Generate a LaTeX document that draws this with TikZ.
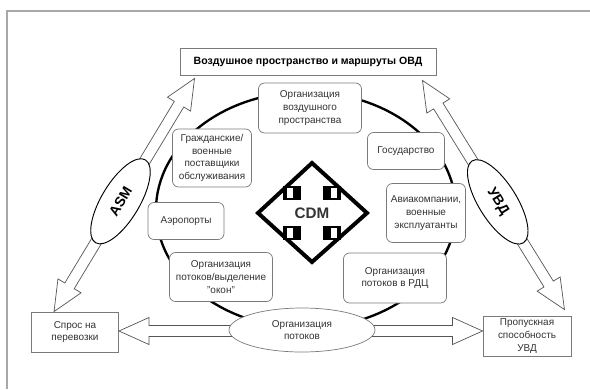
\documentclass[tikz,border=0pt]{standalone}
\usepackage{fontspec}
\setmainfont{Liberation Sans}
\usetikzlibrary{calc,shapes.geometric}
\definecolor{boxgray}{HTML}{7A7A7A}
\definecolor{arrgray}{HTML}{555555}
\definecolor{framegray}{HTML}{A8A8A8}
\definecolor{txt}{HTML}{333333}
\newcommand{\hollowarrow}[2]{%
  \coordinate (#1h) at ($(#1)!0.9cm!(#2)$);
  \coordinate (#2h) at ($(#2)!0.9cm!(#1)$);
  \draw[arrowline] (#1)
    -- ($(#1h)!0.405cm!90:(#2)$) -- ($(#1h)!0.165cm!90:(#2)$)
    -- ($(#2h)!0.165cm!-90:(#1)$) -- ($(#2h)!0.405cm!-90:(#1)$)
    -- (#2)
    -- ($(#2h)!0.405cm!90:(#1)$) -- ($(#2h)!0.165cm!90:(#1)$)
    -- ($(#1h)!0.165cm!-90:(#2)$) -- ($(#1h)!0.405cm!-90:(#2)$)
    -- cycle;}
\begin{document}
\begin{tikzpicture}[x=0.03cm,y=-0.03cm,
  box/.style={draw=boxgray, fill=white, rounded corners=0.18cm, align=center,
    inner sep=0pt, font=\fontsize{8.5}{10.8}\selectfont, text=txt, line width=0.6pt},
  sqbox/.style={draw=boxgray, fill=white, align=center, inner sep=0pt,
    font=\fontsize{8.5}{10.8}\selectfont, text=txt, line width=0.8pt},
  arrowline/.style={draw=arrgray, fill=white, line width=0.6pt, line join=miter},
  lbl/.style={draw=black, fill=white, ellipse, inner sep=0pt,
    font=\bfseries\fontsize{12}{14}\selectfont, line width=0.8pt}]
\useasboundingbox (0,0) rectangle (590,389);
\draw[framegray, line width=1.2pt] (7,389) -- (7,11) -- (590,11);
% ring
\draw[black, line width=2pt] (306,210) ellipse [x radius=4.5cm, y radius=3.54cm];
% outer boxes
\node[sqbox, minimum width=7.68cm, minimum height=0.81cm,
  font=\bfseries\fontsize{9}{10.8}\selectfont, text=black] (top) at (308,61.5)
  {Воздушное пространство и маршруты ОВД};
\node[sqbox, minimum width=2.61cm, minimum height=1.2cm] (spros) at (75,332)
  {Спрос на\\перевозки};
\node[sqbox, minimum width=2.64cm, minimum height=1.2cm] (propusk) at (527,336)
  {Пропускная\\способность\\УВД};
% ring boxes
\node[box, minimum width=3.09cm, minimum height=1.5cm] (orgvp) at (310,108)
  {Организация\\воздушного\\пространства};
\node[box, minimum width=2.37cm, minimum height=1.74cm] (grazh) at (212,158)
  {Гражданские/\\военные\\поставщики\\обслуживания};
\node[box, minimum width=2.31cm, minimum height=1.11cm] (gos) at (406,151)
  {Государство};
\node[box, minimum width=2.37cm, minimum height=1.77cm] (avia) at (426,213)
  {Авиакомпании,\\военные\\эксплуатанты};
\node[box, minimum width=2.28cm, minimum height=1.11cm] (aero) at (186,221)
  {Аэропорты};
\node[box, minimum width=3.09cm, minimum height=1.47cm] (orgwin) at (221,277)
  {Организация\\потоков/выделение\\"окон"};
\node[box, minimum width=3.09cm, minimum height=1.5cm] (orgrdc) at (395,278)
  {Организация\\потоков в РДЦ};
% big arrows
\coordinate (asmlo) at ($(spros.north west)+(23,0)$);
\coordinate (asmhi) at ($(top.south west)+(15,3)$);
\coordinate (uvdhi) at ($(top.south east)+(-14,5)$);
\coordinate (uvdlo) at ($(propusk.north east)+(-7,-6)$);
\coordinate (flowL) at ($(spros.east)+(0,-1)$);
\coordinate (flowR) at ($(propusk.west)+(0,-5)$);
\hollowarrow{asmlo}{asmhi}
\hollowarrow{uvdhi}{uvdlo}
\hollowarrow{flowL}{flowR}
\node[lbl, minimum width=2.9cm, minimum height=1.14cm, rotate=59] (asm)
  at ($(asmlo)!0.473!(asmhi)$) {ASM};
\node[lbl, minimum width=2.9cm, minimum height=1.14cm, rotate=-58] (uvd)
  at ($(uvdhi)!0.53!(uvdlo)$) {УВД};
\node[box, ellipse, rounded corners=0pt, minimum width=4.38cm, minimum height=1.32cm] (orgflow)
  at (302,330) {Организация\\потоков};
% CDM
\node[font=\bfseries\fontsize{13}{15}\selectfont, text=txt] (cdm) at (312,213) {CDM};
\draw[black, line width=3.4pt, line join=miter]
  ($(cdm)+(0,-50)$) -- ($(cdm)+(55,0)$) -- ($(cdm)+(0,49)$) -- ($(cdm)+(-54,0)$) -- cycle;
\foreach \sx in {-1,1} \foreach \sy in {-1,1} {
  \fill[black] ($(cdm)+(11*\sx,13*\sy)$) rectangle ($(cdm)+(29*\sx,27*\sy)$);
  \fill[white] ($(cdm)+(19*\sx,15*\sy)$) rectangle ($(cdm)+(25*\sx,25*\sy)$);
}
\end{tikzpicture}
\end{document}
